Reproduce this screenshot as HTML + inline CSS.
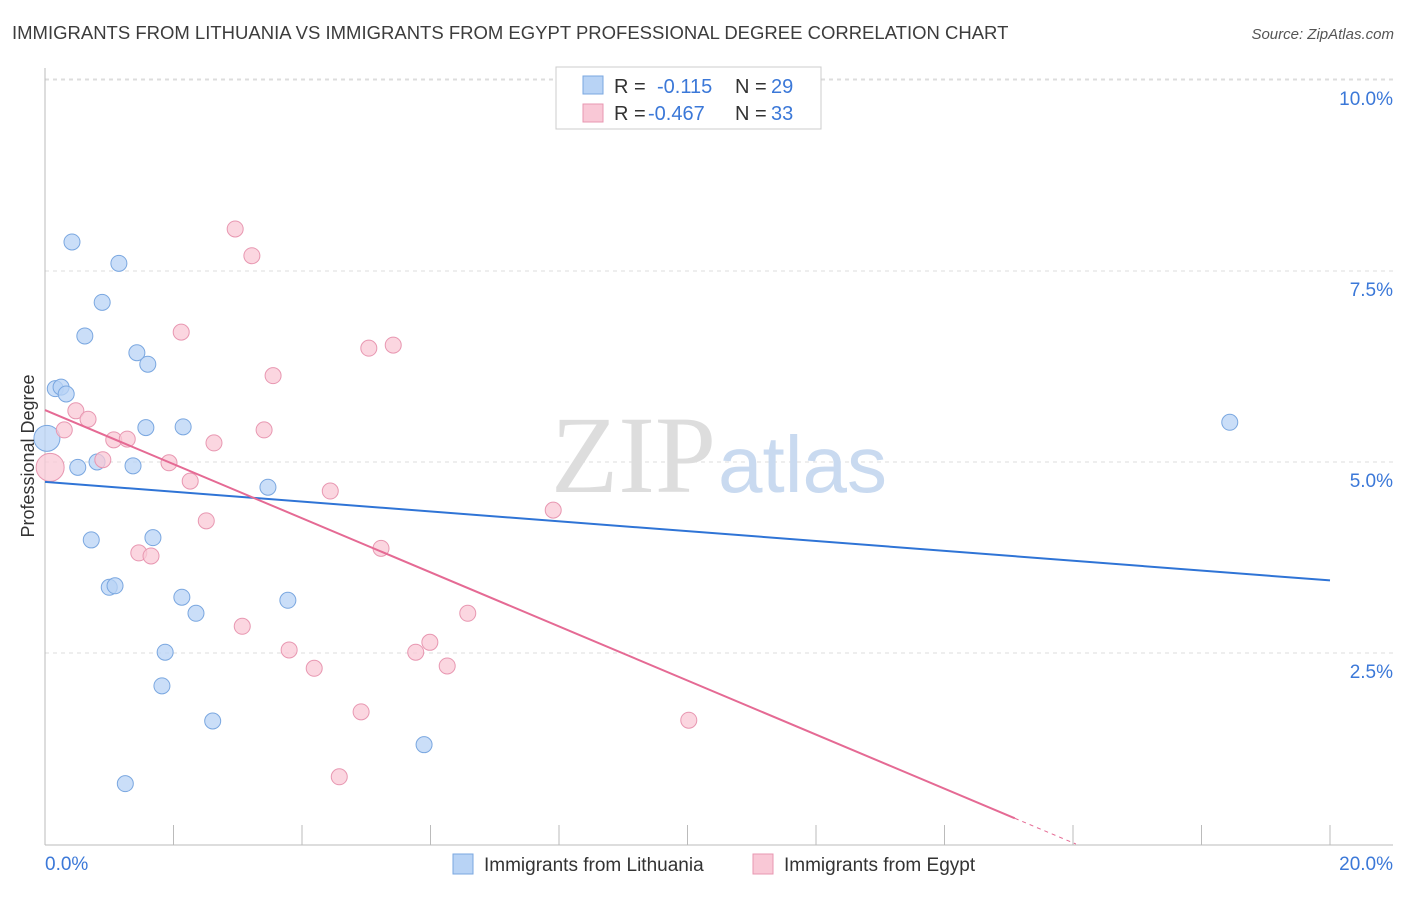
<!DOCTYPE html>
<html><head><meta charset="utf-8">
<style>
body{margin:0;background:#fff;font-family:"Liberation Sans",sans-serif;}
svg text{font-family:"Liberation Sans",sans-serif;}
</style></head>
<body>
<svg id="chart" width="1406" height="892" xmlns="http://www.w3.org/2000/svg">
<text x="12" y="39" font-size="18.5" fill="#3c3c3c">IMMIGRANTS FROM LITHUANIA VS IMMIGRANTS FROM EGYPT PROFESSIONAL DEGREE CORRELATION CHART</text>
<text x="1394" y="39" font-size="15" fill="#555" font-style="italic" text-anchor="end">Source: ZipAtlas.com</text>
<g id="grid"></g>
<g id="axes"></g>
<text x="716" y="492" font-size="110" fill="#ddd" text-anchor="end" style="font-family:'Liberation Serif',serif">ZIP</text>
<text x="718" y="492" font-size="80" fill="#c9daf0">atlas</text>
<g id="marks"></g>
<text transform="translate(34,456) rotate(-90)" font-size="18" fill="#333" text-anchor="middle">Professional Degree</text>
<g>
<rect x="556" y="67" width="265" height="62" fill="#fff" stroke="#ccc"/>
<rect x="583" y="76" width="20" height="18" fill="#b8d3f5" stroke="#7aa7e0"/>
<rect x="583" y="104" width="20" height="18" fill="#f9c8d6" stroke="#e897b1"/>
<text x="614" y="93" font-size="20" fill="#333">R = </text><text x="657" y="93" font-size="20" fill="#3b78d8">-0.115</text>
<text x="735" y="93" font-size="20" fill="#333">N = </text><text x="771" y="93" font-size="20" fill="#3b78d8">29</text>
<text x="614" y="120" font-size="20" fill="#333">R = </text><text x="648" y="120" font-size="20" fill="#3b78d8">-0.467</text>
<text x="735" y="120" font-size="20" fill="#333">N = </text><text x="771" y="120" font-size="20" fill="#3b78d8">33</text>
</g>
<g>
<rect x="453" y="854" width="20" height="20" fill="#b8d3f5" stroke="#7aa7e0"/>
<text x="484" y="871" font-size="19" fill="#333">Immigrants from Lithuania</text>
<rect x="753" y="854" width="20" height="20" fill="#f9c8d6" stroke="#e897b1"/>
<text x="784" y="871" font-size="19" fill="#333">Immigrants from Egypt</text>
</g>
</svg>
<script>
const blueX=[0.42,1.15,0.89,0.62,1.43,1.60,0.16,0.25,0.33,0.03,0.51,0.81,1.37,1.57,2.15,3.47,0.72,1.68,1.0,1.09,2.13,2.35,3.78,1.87,1.82,2.61,1.25,5.90,18.44];
const blueY=[7.88,7.60,7.09,6.65,6.43,6.28,5.96,5.98,5.89,5.31,4.93,5.0,4.95,5.45,5.46,4.67,3.98,4.01,3.36,3.38,3.23,3.02,3.19,2.51,2.07,1.61,0.79,1.30,5.52];
const pinkX=[2.96,3.22,2.12,5.04,5.42,3.55,0.48,0.67,0.30,3.41,1.07,1.28,2.63,0.90,1.93,2.26,0.08,4.44,7.91,2.51,5.23,1.46,1.65,6.58,3.07,3.80,5.99,5.77,6.26,4.19,4.92,10.02,4.58];
const pinkY=[8.05,7.70,6.70,6.49,6.53,6.13,5.67,5.56,5.42,5.42,5.29,5.30,5.25,5.03,4.99,4.75,4.93,4.62,4.37,4.23,3.87,3.81,3.77,3.02,2.85,2.54,2.64,2.51,2.33,2.30,1.73,1.62,0.88];
const blueTrend=[4.74,-0.0645];
const pinkTrend=[5.68,-0.354];
const yTicks=[2.5,5.0,7.5,10.0];
const yTickLabels=["2.5%","5.0%","7.5%","10.0%"];
const xTicks=[0,2,4,6,8,10,12,14,16,18,20];
const NS="http://www.w3.org/2000/svg";
const sx=v=>45+v*64.25, sy=v=>844-v*76.4;
function mk(t,a,p){const e=document.createElementNS(NS,t);for(const k in a)e.setAttribute(k,a[k]);p.appendChild(e);return e;}
const grid=document.getElementById('grid'),axes=document.getElementById('axes'),marks=document.getElementById('marks');
yTicks.forEach((v,i)=>{
 const l=mk('line',{x1:45,x2:1393,y1:sy(v),y2:sy(v),stroke:'#ddd','stroke-dasharray':'4,4'},grid);
 
 
 const t=mk('text',{x:1393,y:sy(v)+25,'font-size':19,fill:'#3b78d8','text-anchor':'end'},axes);
 t.textContent=yTickLabels[i];
 
 
});
mk('line',{x1:45,x2:1393,y1:79,y2:79,stroke:'#ddd','stroke-dasharray':'4,4'},grid);
mk('line',{x1:45,x2:45,y1:68,y2:845,stroke:'#bbb'},axes);
mk('line',{x1:45,x2:1393,y1:845,y2:845,stroke:'#bbb'},axes);
xTicks.forEach(v=>{const t=mk('line',{x1:sx(v),x2:sx(v),y1:825,y2:845,stroke:'#bbb'},axes);
 
 });
let t0=mk('text',{x:45,y:870,'font-size':19,fill:'#3b78d8'},axes);t0.textContent='0.0%';


let t1=mk('text',{x:1393,y:870,'font-size':19,fill:'#3b78d8','text-anchor':'end'},axes);t1.textContent='20.0%';


blueX.forEach((x,i)=>{const c=mk('circle',{cx:sx(x),cy:sy(blueY[i]),r:(i==9?13:8),fill:'#b8d3f5','fill-opacity':0.75,stroke:'#7aa7e0','stroke-width':1},marks);
 
 });
pinkX.forEach((x,i)=>{const c=mk('circle',{cx:sx(x),cy:sy(pinkY[i]),r:(i==16?14:8),fill:'#f9c8d6','fill-opacity':0.75,stroke:'#e897b1','stroke-width':1},marks);
 
 });
const bl=mk('line',{x1:sx(0),y1:sy(blueTrend[0]),x2:sx(20),y2:sy(blueTrend[0]+blueTrend[1]*20),stroke:'#2f74d6','stroke-width':2},marks);


const xEnd=-pinkTrend[0]/pinkTrend[1], xSolid=xEnd-0.95;
const pl=mk('line',{x1:sx(0),y1:sy(pinkTrend[0]),x2:sx(xSolid),y2:sy(pinkTrend[0]+pinkTrend[1]*xSolid),stroke:'#e56a94','stroke-width':2},marks);


const pd=mk('line',{x1:sx(xSolid),y1:sy(pinkTrend[0]+pinkTrend[1]*xSolid),x2:sx(xEnd),y2:sy(0),stroke:'#e56a94','stroke-width':1,'stroke-dasharray':'4,4'},marks);


</script>
</body></html>
